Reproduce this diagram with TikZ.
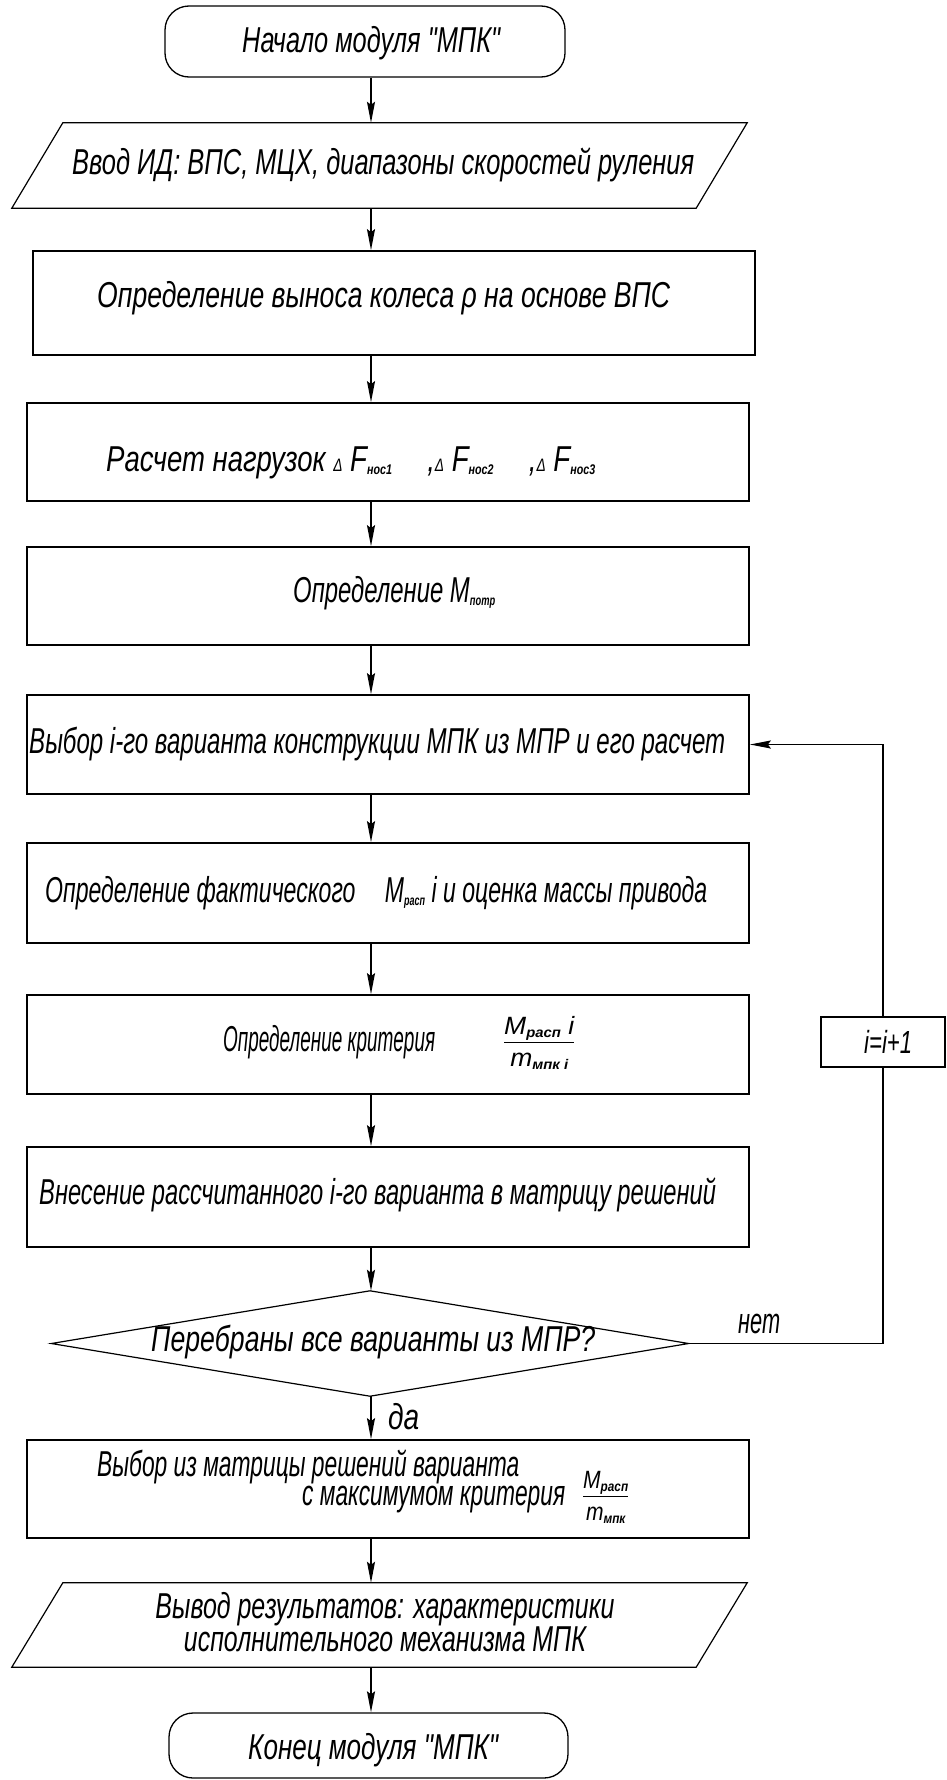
\documentclass[tikz,border=0pt]{standalone}
\usepackage{fontspec}
\usepackage{graphicx}
\newfontfamily\gost[FakeStretch=0.78]{Liberation Sans}
\usetikzlibrary{arrows.meta}
\setlength{\arrayrulewidth}{1.4pt}
\newcommand{\sbs}[1]{\raisebox{-3pt}{\fontsize{14}{14}\selectfont\bfseries #1}}
\newcommand{\dlt}{{\fontsize{18}{18}\selectfont Δ}}
\newcommand{\frc}[2]{{\fontsize{25}{27}\selectfont\begin{tabular}{@{}c@{}}#1\\[-1pt]\hline\rule{0pt}{23pt}#2\end{tabular}}}
\newcommand{\fw}[2]{\resizebox{#1pt}{\height}{#2}}
\tikzset{
  boxshape/.style={draw, line width=1.7pt, inner sep=0pt, minimum width=722pt},
  helper/.style={inner sep=0pt},
  txt/.style={font=\gost\itshape\fontsize{36}{38}\selectfont, inner sep=0pt, anchor=west},
  thinline/.style={line width=1.2pt},
  flow/.style={line width=1.6pt},
  arr/.style={line width=1.6pt, -{Stealth[length=21pt,width=8pt,inset=3pt]}},
  term/.style={draw, line width=1.3pt, rounded corners=24pt, inner sep=0pt}
}
\begin{document}
\begin{tikzpicture}[x=1pt,y=-1pt]
\useasboundingbox (0,0) rectangle (947,1780);
\coordinate (ax) at (371,0);
% start
\node[term, minimum width=400pt, minimum height=71pt] (start) at (365,41.5) {};
\node[txt] (tstart) at (242,43) {\fw{258}{Начало модуля "МПК"}};
% input
\node[helper, minimum width=684pt, minimum height=85pt] (inp) at (405,165.5) {};
\draw[thinline] (inp.north west) -- (inp.north east) -- ([xshift=-51pt]inp.south east) -- ([xshift=-51pt]inp.south west) -- cycle;
\node[txt] (tinp) at (72,165) {\fw{622}{Ввод ИД: ВПС, МЦХ, диапазоны скоростей руления}};
% b1
\node[boxshape, minimum height=104pt] (b1) at (394,303) {};
\node[txt] (tb1) at (97,298) {\fw{573}{Определение выноса колеса ρ на основе ВПС}};
% b2
\node[boxshape, minimum height=98pt] (b2) at (388,452) {};
\node[txt] (tb2) at (106,463) {\fw{489}{Расчет нагрузок \dlt\ F\sbs{нос1}\quad ,\dlt\ F\sbs{нос2}\quad ,\dlt\ F\sbs{нос3}}};
% b3
\node[boxshape, minimum height=98pt] (b3) at (388,596) {};
\node[txt] (tb3) at (293,593) {\fw{202}{Определение M\sbs{потр}}};
% b4
\node[boxshape, minimum height=99pt] (b4) at (388,744.5) {};
\node[txt] (tb4) at (29,744) {\fw{696}{Выбор i-го варианта конструкции МПК из МПР и его расчет}};
% b5
\node[boxshape, minimum height=100pt] (b5) at (388,893) {};
\node[txt] (tb5) at (45,893) {\fw{662}{Определение фактического\quad M\sbs{расп} i и оценка массы привода}};
% b6
\node[boxshape, minimum height=99pt] (b6) at (388,1044.5) {};
\node[txt] (tb6) at (223,1045) {\fw{212}{Определение критерия}\hspace{69pt}\fw{70}{\frc{M\sbs{расп} i}{m\sbs{мпк i}}}};
% b7
\node[boxshape, minimum height=100pt] (b7) at (388,1197) {};
\node[txt] (tb7) at (39,1195) {\fw{677}{Внесение рассчитанного i-го варианта в матрицу решений}};
% diamond
\node[helper, minimum width=637pt, minimum height=105pt] (dia) at (370,1343.5) {};
\draw[thinline] (dia.north) -- (dia.east) -- (dia.south) -- (dia.west) -- cycle;
\node[txt] (tdia) at (151,1342) {\fw{444}{Перебраны все варианты из МПР?}};
% b8
\node[boxshape, minimum height=98pt] (b8) at (388,1489) {};
\node[txt] (tb8a) at (97,1467) {\fw{422}{Выбор из матрицы решений варианта}};
\node[txt] (tb8b) at (302,1499) {\fw{263}{с максимумом критерия}\hspace{18pt}\fw{45}{\frc{M\sbs{расп}}{m\sbs{мпк}}}};
% output
\node[helper, minimum width=684pt, minimum height=84pt] (outp) at (405,1625) {};
\draw[thinline] (outp.north west) -- (outp.north east) -- ([xshift=-51pt]outp.south east) -- ([xshift=-51pt]outp.south west) -- cycle;
\node[txt, anchor=center, align=center, font=\gost\itshape\fontsize{36}{27}\selectfont] (toutp) at (385,1622) {\fw{459}{Вывод результатов: характеристики}\\\fw{402}{исполнительного механизма МПК}};
% end
\node[term, minimum width=399pt, minimum height=65pt] (stop) at (368.5,1745.5) {};
\node[txt] (tstop) at (248,1750) {\fw{250}{Конец модуля "МПК"}};
% increment
\node[draw, line width=1.6pt, minimum width=124pt, minimum height=50pt, inner sep=0pt] (inc) at (883,1042) {};
\node[txt, font=\gost\itshape\fontsize{32}{34}\selectfont] (tinc) at (864,1042) {\fw{48}{i=i+1}};
% labels
\node[txt] (lno) at (738,1324) {\fw{42}{нет}};
\node[txt] (lyes) at (388,1417) {да};
% connectors
\draw[arr] (start.south -| ax) -- (inp.north -| ax);
\draw[arr] (inp.south -| ax) -- (b1.north -| ax);
\draw[arr] (b1.south -| ax) -- (b2.north -| ax);
\draw[arr] (b2.south -| ax) -- (b3.north -| ax);
\draw[arr] (b3.south -| ax) -- (b4.north -| ax);
\draw[arr] (b4.south -| ax) -- (b5.north -| ax);
\draw[arr] (b5.south -| ax) -- (b6.north -| ax);
\draw[arr] (b6.south -| ax) -- (b7.north -| ax);
\draw[arr] (b7.south -| ax) -- (dia.north -| ax);
\draw[arr] (dia.south -| ax) -- (b8.north -| ax);
\draw[arr] (b8.south -| ax) -- (outp.north -| ax);
\draw[arr] (outp.south -| ax) -- (stop.north -| ax);
\draw[flow] (dia.east) -- (dia.east -| inc) -- (inc.south);
\draw[arr] (inc.north) -- (inc.north |- b4.east) -- (b4.east);
\end{tikzpicture}
\end{document}
